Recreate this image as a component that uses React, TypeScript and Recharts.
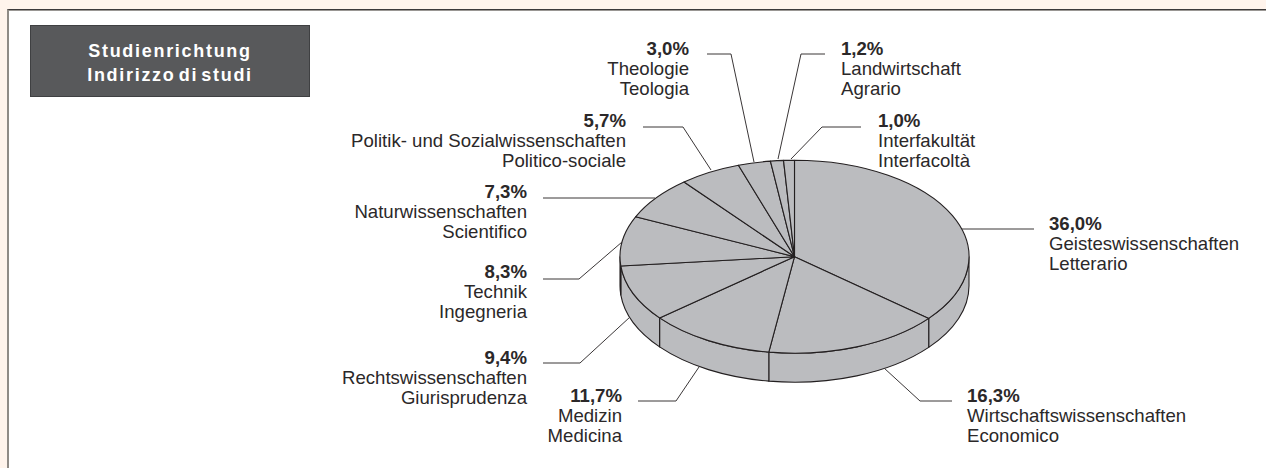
import React from 'react';
import { PieChart, Pie } from 'recharts';

const shares = [36.0, 16.3, 11.7, 9.4, 8.3, 7.3, 5.7, 3.0, 1.2, 1.0];
const germanNames = [
  'Geisteswissenschaften',
  'Wirtschaftswissenschaften',
  'Medizin',
  'Rechtswissenschaften',
  'Technik',
  'Naturwissenschaften',
  'Politik- und Sozialwissenschaften',
  'Theologie',
  'Landwirtschaft',
  'Interfakultät',
];
const italianNames = [
  'Letterario',
  'Economico',
  'Medicina',
  'Giurisprudenza',
  'Ingegneria',
  'Scientifico',
  'Politico-sociale',
  'Teologia',
  'Agrario',
  'Interfacoltà',
];
const titleLines = ['Studienrichtung', 'Indirizzo di studi'];

const data = shares.map((share, i) => ({
  share,
  german: germanNames[i],
  italian: italianNames[i],
}));

// label anchor + leader polyline per slice, same order as shares
const labelLayout = [
  { x: 1049, y: 230, anchor: 'start', leader: '962,229 1034,229' },
  { x: 967, y: 402, anchor: 'start', leader: '884,368 920,401 952,401' },
  { x: 622, y: 402, anchor: 'end', leader: '699,367 676,401 638,401' },
  { x: 527, y: 364, anchor: 'end', leader: '630,317 580,363 543,363' },
  { x: 527, y: 278, anchor: 'end', leader: '622,242 579,279 543,279' },
  { x: 527, y: 198, anchor: 'end', leader: '655,198 543,198' },
  { x: 626, y: 127, anchor: 'end', leader: '711,170 683,127 643,127' },
  { x: 689, y: 55, anchor: 'end', leader: '754,162 731,54 707,54' },
  { x: 841, y: 55, anchor: 'start', leader: '778,159 801,54 825,54' },
  { x: 878, y: 127, anchor: 'start', leader: '791,159 822,127 861,127' },
];

const WIDTH = 1266;
const HEIGHT = 468;
const CX = 794.5;
const CY = 256.7;
const RADIUS = 174.5;
const SQUASH = 96.5 / 174.5;
const DEPTH = 29;
const SLICE_FILL = '#bbbcbf';
const INK = '#231f20';
const TEXT_INK = '#2b2829';
const FONT = '"Liberation Sans", Arial, sans-serif';

const rad = (deg: number) => (deg * Math.PI) / 180;
const px = (a: number) => CX + RADIUS * Math.cos(rad(a));
const py = (a: number) => CY - RADIUS * SQUASH * Math.sin(rad(a));

// top face, circle squashed into an ellipse
function TopSlice({ startAngle, endAngle }: any) {
  const large = Math.abs(startAngle - endAngle) > 180 ? 1 : 0;
  const rx = RADIUS;
  const ry = RADIUS * SQUASH;
  const d = `M${CX},${CY} L${px(startAngle)},${py(startAngle)} A${rx},${ry} 0 ${large} 1 ${px(endAngle)},${py(endAngle)} Z`;
  return <path d={d} fill={SLICE_FILL} stroke={INK} strokeWidth={1.1} strokeLinejoin="round" />;
}

// side wall, only the front half of the rim is visible
function WallSlice({ startAngle, endAngle }: any) {
  const from = Math.min(startAngle, 0);
  const to = Math.max(endAngle, -180);
  if (from <= to) return null;
  const rx = RADIUS;
  const ry = RADIUS * SQUASH;
  const d =
    `M${px(from)},${py(from)} A${rx},${ry} 0 0 1 ${px(to)},${py(to)} ` +
    `L${px(to)},${py(to) + DEPTH} A${rx},${ry} 0 0 0 ${px(from)},${py(from) + DEPTH} Z`;
  return <path d={d} fill={SLICE_FILL} stroke={INK} strokeWidth={1.1} strokeLinejoin="round" />;
}

function SliceLabel({ index }: any) {
  const spot = labelLayout[index];
  const row = data[index];
  const common = { x: spot.x, textAnchor: spot.anchor, fontFamily: FONT, fontSize: 18.6, fill: TEXT_INK } as any;
  return (
    <g>
      <polyline points={spot.leader} fill="none" stroke="#3a3637" strokeWidth={1} />
      <text {...common} y={spot.y} fontWeight="bold">
        {row.share.toFixed(1).replace('.', ',')}%
      </text>
      <text {...common} y={spot.y + 20}>{row.german}</text>
      <text {...common} y={spot.y + 40}>{row.italian}</text>
    </g>
  );
}

export default function App() {
  return (
    <div style={{ position: 'absolute', left: 0, top: 0, width: WIDTH, height: HEIGHT, background: '#fff4ec', overflow: 'hidden' }}>
      <div
        style={{
          position: 'absolute',
          left: 7,
          top: 9,
          width: WIDTH,
          height: HEIGHT,
          background: '#fff',
          borderLeft: '2px solid #8f8b86',
          borderTop: '1px solid #3d3a3a',
          boxShadow: 'inset 0 1px 0 #9a9794',
        }}
      />
      <div
        style={{
          position: 'absolute',
          left: 30,
          top: 25,
          width: 280,
          height: 72,
          boxSizing: 'border-box',
          background: '#58595b',
          border: '1px solid #3f4042',
          color: '#fff',
          fontFamily: FONT,
          fontWeight: 'bold',
          fontSize: 18,
          letterSpacing: 1.7,
          wordSpacing: -3.5,
          lineHeight: '23.5px',
          textAlign: 'center',
          paddingTop: 14,
        }}
      >
        {titleLines.map((line) => (
          <div key={line}>{line}</div>
        ))}
      </div>
      <div style={{ position: 'absolute', left: 0, top: 0 }}>
        <PieChart width={WIDTH} height={HEIGHT} margin={{ top: 0, right: 0, bottom: 0, left: 0 }}>
          <Pie
            data={data}
            dataKey="share"
            cx={CX}
            cy={CY}
            outerRadius={RADIUS}
            startAngle={90}
            endAngle={-270}
            shape={WallSlice}
            label={false}
            labelLine={false}
            rootTabIndex={-1}
            isAnimationActive={false}
          />
          <Pie
            data={data}
            dataKey="share"
            cx={CX}
            cy={CY}
            outerRadius={RADIUS}
            startAngle={90}
            endAngle={-270}
            shape={TopSlice}
            label={(props: any) => <SliceLabel {...props} />}
            labelLine={false}
            rootTabIndex={-1}
            isAnimationActive={false}
          />
        </PieChart>
      </div>
    </div>
  );
}
